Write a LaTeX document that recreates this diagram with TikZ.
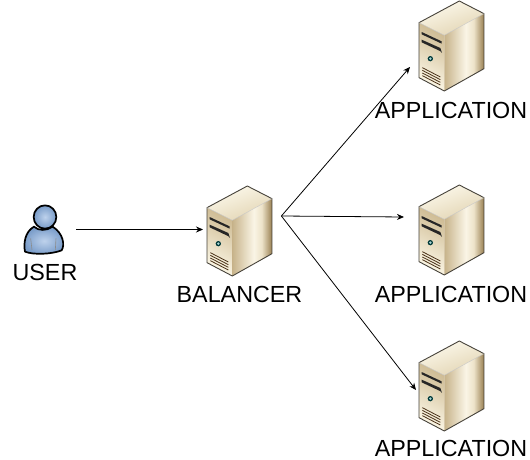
\documentclass[tikz,border=0pt]{standalone}
\usepackage{fontspec}
\setmainfont{Liberation Sans}
\usetikzlibrary{arrows.meta}
\definecolor{edgeC}{RGB}{70,66,58}
\definecolor{frontT}{RGB}{252,247,230}
\definecolor{frontB}{RGB}{205,186,146}
\definecolor{topL}{RGB}{253,250,238}
\definecolor{topR}{RGB}{226,212,178}
\definecolor{userIn}{RGB}{190,210,236}
\definecolor{userOut}{RGB}{120,155,200}
\pgfdeclarehorizontalshading{sideshade}{100bp}{
  rgb(0bp)=(0.78,0.70,0.54);
  rgb(25bp)=(0.78,0.70,0.54);
  rgb(52bp)=(0.98,0.96,0.90);
  rgb(62bp)=(0.93,0.89,0.79);
  rgb(75bp)=(0.60,0.50,0.32);
  rgb(100bp)=(0.60,0.50,0.32)}
\tikzset{
  arrowline/.style={draw=black,line width=0.8pt,-{Stealth[length=7pt,width=6pt]}},
  label/.style={font=\fontsize{23.3}{26}\selectfont,text=black,inner sep=0pt,anchor=base},
  serverbox/.style={inner sep=0pt,minimum width=65pt,minimum height=90pt,anchor=north west},
  userbox/.style={inner sep=0pt,minimum width=37pt,minimum height=48pt,anchor=north west},
  server/.pic={
    \begin{scope}[x=0.3333pt,y=-0.3333pt,line join=round]
      \shade[top color=topL,bottom color=topR,shading angle=20] (0,65) -- (121,0) -- (195,38) -- (76,103) -- cycle;
      \shade[left color=frontT,right color=frontB,shading angle=150] (0,65) -- (76,103) -- (76,270) -- (0,230) -- cycle;
      \shade[shading=sideshade] (76,103) -- (195,38) -- (195,203) -- (76,270) -- cycle;
      \draw[edgeC,line width=0.9pt] (0,65) -- (121,0) -- (195,38) -- (195,203) -- (76,270) -- (0,230) -- cycle;
      \draw[white!70!edgeC,line width=0.4pt] (0,65) -- (76,103) -- (195,38);
      \fill[black!85] (8,93) -- (68,121) -- (68,128) -- (8,100) -- cycle;
      \fill[black!85] (8,116) -- (64,141) -- (69,156) -- (63,150) -- (8,124) -- cycle;
      \fill[teal!45!black] (34,173) circle (8);
      \fill[teal!35!white] (34,173) circle (4);
      \foreach \d in {0,8,16,24}{
        \draw[black!60!brown,line width=0.8pt] (10,200+\d) -- (64,228+\d);
      }
    \end{scope}
  },
  usericon/.pic={
    \begin{scope}[x=0.3333pt,y=-0.3333pt,line join=round]
      \shade[inner color=userIn,outer color=userOut,draw=black,line width=1.7pt]
        (45,170) .. controls (70,180) and (125,178) .. (155,166)
        .. controls (165,150) and (160,115) .. (128,95)
        .. controls (110,108) and (85,108) .. (72,95)
        .. controls (45,110) and (40,145) .. (45,170) -- cycle;
      \draw[black!45,line width=0.6pt] (62,130) -- (66,165);
      \draw[black!45,line width=0.6pt] (138,130) -- (136,165);
      \shade[inner color=userIn,outer color=userOut,draw=black,line width=1.7pt]
        (105,66) ellipse (34 and 35);
    \end{scope}
  }
}
\begin{document}
\begin{tikzpicture}[x=1pt,y=-1pt]
\useasboundingbox (0,0) rectangle (530,460);
\fill[white] (0,0) rectangle (530,460);
\node[userbox] (user) at (26,205) {};
\node[serverbox] (balancer) at (207,186) {};
\node[serverbox] (app1) at (419,1) {};
\node[serverbox] (app2) at (419,185) {};
\node[serverbox] (app3) at (419,341) {};
\pic at (user.north west) [shift={(-16,-10)}] {usericon};
\pic at (balancer.north west) {server};
\pic at (app1.north west) {server};
\pic at (app2.north west) {server};
\pic at (app3.north west) {server};
\node[label] (lu) at (45,280) {USER};
\node[label] (lb) at (239.5,302) {BALANCER};
\node[label] (l1) at (451,118) {APPLICATION};
\node[label] (l2) at (451,302) {APPLICATION};
\node[label] (l3) at (451,456.5) {APPLICATION};
\coordinate (uout) at ([xshift=13pt,yshift=-24.5pt]user.north east);
\coordinate (bin) at ([xshift=-4pt,yshift=-43.5pt]balancer.north west);
\coordinate (bout) at ([xshift=9pt,yshift=-30pt]balancer.north east);
\coordinate (a1in) at ([xshift=-9pt,yshift=-66pt]app1.north west);
\coordinate (a2in) at ([xshift=-15pt,yshift=-32pt]app2.north west);
\coordinate (a3in) at ([xshift=-3pt,yshift=-49pt]app3.north west);
\draw[arrowline] (uout) -- (bin);
\draw[arrowline] (bout) -- (a1in);
\draw[arrowline] (bout) -- (a2in);
\draw[arrowline] (bout) -- (a3in);
\end{tikzpicture}
\end{document}
